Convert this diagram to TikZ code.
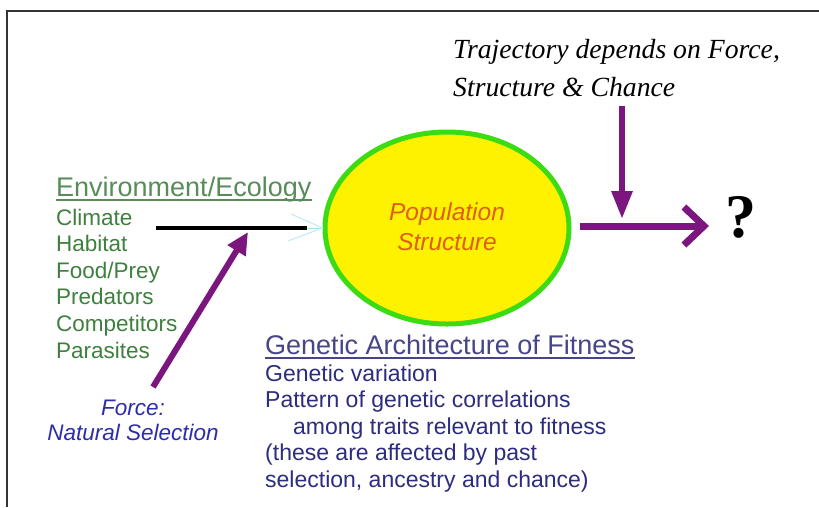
\documentclass[tikz,border=0pt]{standalone}
\usepackage{fontspec}
\setmainfont{Liberation Serif}
\setsansfont{Liberation Sans}
\usetikzlibrary{arrows.meta,shapes.geometric}
\definecolor{envgreen}{RGB}{62,128,62}
\definecolor{envhead}{RGB}{88,140,88}
\definecolor{genblue}{RGB}{45,45,125}
\definecolor{genhead}{RGB}{70,70,135}
\definecolor{forceblue}{RGB}{45,45,170}
\definecolor{popor}{RGB}{222,95,20}
\definecolor{purp}{RGB}{122,22,126}
\definecolor{elgreen}{RGB}{60,220,20}
\definecolor{lcyan}{RGB}{165,225,240}
\newcommand{\fsz}[1]{\fontsize{#1}{#1}\selectfont}
\tikzset{
  txt/.style={inner sep=0pt, anchor=base west},
  envitem/.style={txt, font=\sffamily\fsz{22.5}, text=envgreen},
  genitem/.style={txt, font=\sffamily\fsz{23}, text=genblue},
  purparrow/.style={draw=purp, line width=6pt},
}
\begin{document}
\begin{tikzpicture}[x=1pt,y=-1pt]
\useasboundingbox (0,0) rectangle (819,507);
\fill[white] (0,0) rectangle (819,507);
% frame
\draw[line width=1.5pt, black!80] (7,507) -- (7,11) -- (819,11);

% ellipse
\node (pop) [ellipse, draw=elgreen, fill=yellow, line width=5pt, minimum width=244pt, minimum height=192pt, inner sep=0pt] at (447,228) {};
\node (pop1) [inner sep=0pt, anchor=base, font=\sffamily\itshape\fsz{24.5}, text=popor] at (447,220) {Population};
\node (pop2) [inner sep=0pt, anchor=base, font=\sffamily\itshape\fsz{24.5}, text=popor] at (447,250) {Structure};

% Environment / Ecology
\node (envh) [txt, font=\sffamily\fsz{27}, text=envhead] at (56,196) {Environment/Ecology};
\draw[envhead, line width=1.5pt] ([yshift=-4pt]envh.base west) -- ([yshift=-4pt]envh.base east);
\node (e1) [envitem] at (56,225) {Climate};
\node (e2) [envitem] at (56,251.6) {Habitat};
\node (e3) [envitem] at (56,278.2) {Food/Prey};
\node (e4) [envitem] at (56,304.8) {Predators};
\node (e5) [envitem] at (56,331.4) {Competitors};
\node (e6) [envitem] at (56,358) {Parasites};

% black bar and faint cyan arrow into ellipse
\coordinate (barL) at (156,228);
\coordinate (barR) at (307,228);
\coordinate (cyanTip) at (pop.west);
\draw[lcyan, line width=1pt] (barR) -- (cyanTip);
\draw[lcyan!70, line width=1pt] (291,214) -- (cyanTip) -- (288,241);
\draw[black, line width=4.5pt] (barL) -- (barR);

% Force: Natural Selection
\node (f1) [inner sep=0pt, anchor=base, font=\sffamily\itshape\fsz{22.5}, text=forceblue] at (133,415) {Force:};
\node (f2) [inner sep=0pt, anchor=base, font=\sffamily\itshape\fsz{22.5}, text=forceblue] at (133,440) {Natural Selection};
\coordinate (dstart) at (153,387);
\coordinate (dtip) at (248,232);
\draw[purparrow, -{Triangle[length=22pt, width=20pt]}] (dstart) -- (dtip);

% Genetic architecture
\node (gh) [txt, font=\sffamily\fsz{27}, text=genhead] at (265,354) {Genetic Architecture of Fitness};
\draw[genhead, line width=1.5pt] ([yshift=-4pt]gh.base west) -- ([yshift=-4pt]gh.base east);
\node (g1) [genitem] at (265,381) {Genetic variation};
\node (g2) [genitem] at (265,407.5) {Pattern of genetic correlations};
\node (g3) [genitem] at (293,434) {among traits relevant to fitness};
\node (g4) [genitem] at (265,460.5) {(these are affected by past};
\node (g5) [genitem] at (265,487) {selection, ancestry and chance)};

% Trajectory text
\node (t1) [txt, font=\rmfamily\itshape\fsz{27.7}] at (453,58) {Trajectory depends on Force,};
\node (t2) [txt, font=\rmfamily\itshape\fsz{27.7}] at (453,96) {Structure \& Chance};

% arrows to ?
\node (q) [inner sep=0pt, anchor=base, font=\rmfamily\bfseries\fsz{62}] at (741,237) {?};
\coordinate (hstart) at (580,226);
\coordinate (htip) at (709,226);
\draw[purparrow, line width=7pt, line cap=butt, -{Straight Barb[length=20pt, width=38pt, line width=7pt]}] (hstart) -- (htip);
\coordinate (vstart) at (622,106);
\coordinate (vtip) at (622,219);
\draw[purparrow, -{Triangle[length=28pt, width=20pt]}] (vstart) -- (vtip);
\end{tikzpicture}
\end{document}
